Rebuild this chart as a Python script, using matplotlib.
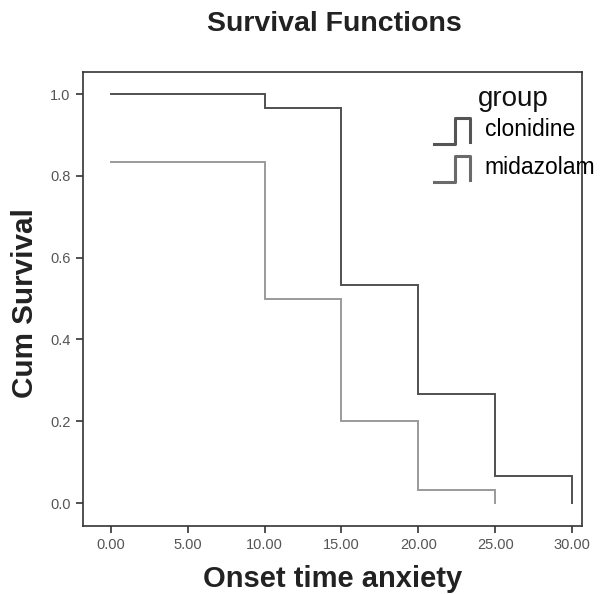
import matplotlib
matplotlib.use("Agg")
import matplotlib.pyplot as plt
from matplotlib.lines import Line2D
from matplotlib.legend_handler import HandlerBase

plt.rcParams['font.family'] = ['Liberation Sans', 'DejaVu Sans']

groups = ["clonidine", "midazolam"]
clon_t = [0, 10, 15, 20, 25, 30]
clon_s = [1.0, 0.967, 0.533, 0.267, 0.067, 0.0]
mida_t = [0, 10, 15, 20, 25]
mida_s = [0.833, 0.5, 0.2, 0.033, 0.0]
xticks = [0, 5, 10, 15, 20, 25, 30]
yticks = [0.0, 0.2, 0.4, 0.6, 0.8, 1.0]
colors = {"clonidine": "#505050", "midazolam": "#9a9a9a"}

fig = plt.figure(figsize=(6.14, 5.94), dpi=100)
ax = fig.add_axes([0.135, 0.1145, 0.813, 0.7643])

def km(ax, t, s, color):
    xs, ys = [t[0]], [s[0]]
    for i in range(1, len(t)):
        xs += [t[i], t[i]]
        ys += [s[i - 1], s[i]]
    ax.plot(xs, ys, color=color, lw=1.4, solid_joinstyle='miter')

km(ax, clon_t, clon_s, colors["clonidine"])
km(ax, mida_t, mida_s, colors["midazolam"])

ax.set_xlim(-1.82, 30.65)
ax.set_ylim(-0.056, 1.054)
ax.set_xticks(xticks)
ax.set_xticklabels([f"{v:.2f}" for v in xticks], fontsize=10.5, color="#555555")
ax.set_yticks(yticks)
ax.set_yticklabels([f"{v:.1f}" for v in yticks], fontsize=10.5, color="#555555")
ax.tick_params(direction='out', length=5, width=1.2, color="#333333", pad=4)
for sp in ax.spines.values():
    sp.set_linewidth(1.2)
    sp.set_color("#333333")

ax.set_xlabel("Onset time anxiety", fontsize=21, fontweight='bold', color="#222222")
ax.set_ylabel("Cum Survival", fontsize=21.3, fontweight='bold', color="#222222")
ax.xaxis.set_label_coords(0.5, -0.085)
ax.yaxis.set_label_coords(-0.088, 0.49)
fig.text(0.545, 0.96, "Survival Functions", ha='center', va='center',
         fontsize=20.5, fontweight='bold', color="#222222")

class StepHandler(HandlerBase):
    def create_artists(self, legend, orig_handle, xdescent, ydescent,
                       width, height, fontsize, trans):
        w = width
        y0 = -ydescent - height * 0.45
        h = height * 1.6
        x0 = -xdescent
        xs = [x0, x0 + 0.55 * w, x0 + 0.55 * w, x0 + 0.97 * w, x0 + 0.97 * w]
        ys = [y0, y0, y0 + h, y0 + h, y0 + 0.05 * h]
        ln = Line2D(xs, ys, color=orig_handle.get_color(), lw=2.2, transform=trans)
        return [ln]

fig.text(478 / 614, 1 - 99 / 594, "group", ha='left', va='center',
         fontsize=20, color="#111111")

handles = [Line2D([], [], color=c) for c in ["#555555", "#6a6a6a"]]
leg = ax.legend(handles, groups, handler_map={Line2D: StepHandler()},
                loc='upper left', bbox_to_anchor=(423 / 614, 1 - 107 / 594),
                bbox_transform=fig.transFigure, frameon=False, borderpad=0,
                fontsize=16.5, handlelength=1.6, handletextpad=0.6,
                labelspacing=0.65)

fig.savefig("out.png", dpi=100)
